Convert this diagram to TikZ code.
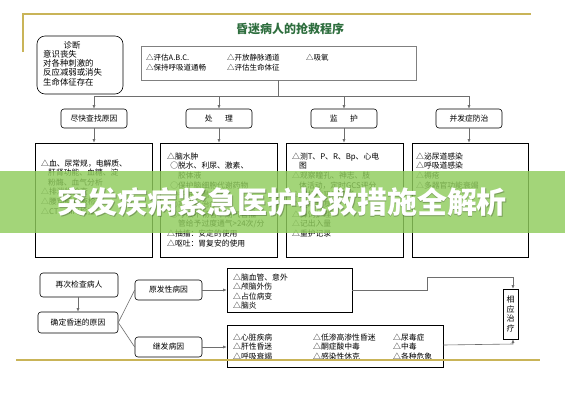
\documentclass[tikz,border=0pt]{standalone}
\usepackage{fontspec}
\setmainfont{Noto Sans CJK SC}
\usetikzlibrary{arrows.meta}
\definecolor{gold}{HTML}{C9B458}
\definecolor{titlegreen}{HTML}{2E6E3E}
\definecolor{bandgreen}{HTML}{8FCC5C}
\definecolor{linegray}{HTML}{6E6E6E}
\begin{document}
\begin{tikzpicture}[x=1pt,y=-1pt,
  box/.style={draw=black, line width=0.6pt, inner sep=0pt, fill=white, font=\fontsize{7.8}{9.6}\selectfont},
  rbox/.style={box, rounded corners=3pt},
  txt/.style={inner sep=0pt, align=left, anchor=north west, font=\fontsize{7.8}{9.6}\selectfont},
  conn/.style={draw=linegray, line width=0.6pt},
  arr/.style={conn, -{Latex[length=3.5pt,width=3pt]}},
  goldline/.style={draw=gold, line width=1.3pt}
]
\useasboundingbox (0,0) rectangle (565,400);
\fill[white] (0,0) rectangle (565,400);

% decorative gold line (top)
\draw[goldline] (23,52) -- (23,14) -- (531,14);

% title
\node[inner sep=0pt, font=\fontsize{12}{14}\selectfont\bfseries, text=titlegreen] (title) at (290,28.5) {昏迷病人的抢救程序};

% diagnosis box
\node[box, rounded corners=8pt, minimum width=86, minimum height=58] (diag) at (80,65) {};
\node[inner sep=0pt, font=\fontsize{8.4}{9.3}\selectfont] (diagh) at (72,45) {诊断};
\node[txt, font=\fontsize{8.4}{9.3}\selectfont] (diagt) at (43,50) {意识丧失\\对各种刺激的\\反应减弱或消失\\生命体征存在};

% top box
\node[box, draw=gray, minimum width=275, minimum height=34] (top) at (278.5,63) {};
\node[txt, font=\fontsize{7.5}{10}\selectfont] (ta) at (146,53.5) {△评估A.B.C.\\△保持呼吸道通畅};
\node[txt, font=\fontsize{7.5}{10}\selectfont] (tb) at (227,53.5) {△开放静脉通道\\△评估生命体征};
\node[txt, font=\fontsize{7.5}{10}\selectfont] (tc) at (306,53.5) {△吸氧};

% small heading boxes
\node[rbox, minimum width=66, minimum height=19] (c1) at (94,118.5) {尽快查找原因};
\node[rbox, minimum width=66, minimum height=19] (c2) at (219,118.5) {处\hspace{1.6em}理};
\node[rbox, minimum width=66, minimum height=19] (c3) at (344,118.5) {监\hspace{1.6em}护};
\node[rbox, minimum width=66, minimum height=19] (c4) at (469,118.5) {并发症防治};

% connectors from top box
\coordinate (hub) at (278.5,96);
\coordinate (h1) at (94,96);
\coordinate (h4) at (469,96);
\draw[conn] (top.south) -- (hub);
\draw[conn] (h1) -- (h4);
\draw[arr] (h1) -- (c1.north);
\draw[arr] (c2.north |- hub) -- (c2.north);
\draw[arr] (c3.north |- hub) -- (c3.north);
\draw[arr] (h4) -- (c4.north);

% big boxes
\node[box, minimum width=117, minimum height=114] (d1) at (93.5,200) {};
\node[box, minimum width=117, minimum height=114] (d2) at (218.5,200) {};
\node[box, minimum width=117, minimum height=114] (d3) at (344.5,200) {};
\node[box, minimum width=116, minimum height=114] (d4) at (470,200) {};
\draw[arr] (c1.south) -- (c1.south |- d1.north);
\draw[arr] (c2.south) -- (c2.south |- d2.north);
\draw[arr] (c3.south) -- (c3.south |- d3.north);
\draw[arr] (c4.south) -- (c4.south |- d4.north);

\node[txt] (d1t) at (41,159.3) {△血、尿常规，电解质、\\\hspace*{0.9em}肝肾功能、血糖、淀\\\hspace*{0.9em}粉酶、血气分析\\△排泄物检查\\△腰穿脑脊液检查\\△CT、MRI检查};
\node[txt, font=\fontsize{7.8}{9.7}\selectfont] (d2t) at (167,152.3) {△脑水肿\\\hspace*{0.4em}○脱水、利尿、激素、\\\hspace*{1.4em}胶体液\\\hspace*{0.4em}○保护脑细胞代谢药物\\\hspace*{0.4em}○冬眠低温疗法\\\hspace*{0.4em}○高压氧治疗\\\hspace*{0.4em}○呼吸不畅者早期气管插\\\hspace*{1.4em}管给予过度通气>24次/分\\△抽搐：安定的使用\\△呕吐：胃复安的使用};
\node[txt, font=\fontsize{7.8}{9.7}\selectfont] (d3t) at (292,152.3) {△测T、P、R、Bp、心电\\\hspace*{0.9em}图\\△观察瞳孔、神志、肢\\\hspace*{0.9em}体活动，定时GCS评分\\△保持呼吸道通畅\\△定时翻身\\△鼻饲护理\\△记出入量\\△重护记录};
\node[txt, font=\fontsize{7.8}{9.7}\selectfont] (d4t) at (416,152.3) {△泌尿道感染\\△呼吸道感染\\△褥疮\\△多器官功能衰竭};

% bottom part
\node[rbox, minimum width=78, minimum height=24] (b1) at (79,285) {再次检查病人};
\node[rbox, minimum width=80, minimum height=21] (b2) at (78,322.5) {确定昏迷的原因};
\draw[arr] (b1.south -| b2.north) -- (b2.north);
\node[rbox, minimum width=67, minimum height=20] (p1) at (168.5,290) {原发性病因};
\node[rbox, minimum width=67, minimum height=20] (p2) at (168.5,347) {继发病因};
\draw[conn] (b2.east) -- (p1.west);
\draw[conn] (b2.east) -- (p2.west);

\node[box, minimum width=125, minimum height=44] (l1) at (289.5,290) {};
\node[txt, font=\fontsize{7.8}{9.4}\selectfont] (l1t) at (233,273.5) {△脑血管、意外\\△颅脑外伤\\△占位病变\\△脑炎};
\node[box, minimum width=216, minimum height=42] (l2) at (335,346) {};
\node[txt, font=\fontsize{7.8}{9.5}\selectfont] (l2a) at (233,333.5) {△心脏疾病\\△肝性昏迷\\△呼吸衰竭};
\node[txt, font=\fontsize{7.8}{9.5}\selectfont] (l2b) at (313,333.5) {△低渗高渗性昏迷\\△酮症酸中毒\\△感染性休克};
\node[txt, font=\fontsize{7.8}{9.5}\selectfont] (l2c) at (393,333.5) {△尿毒症\\△中毒\\△各种危象};
\draw[arr] (p1.east) -- (l1.west);
\draw[arr] (p2.east) -- (p2.east -| l2.west);

\node[box, minimum width=15, minimum height=50, align=center, font=\fontsize{8}{9.5}\selectfont] (tr) at (510.5,314) {相\\应\\治\\疗};
\coordinate (k1) at (427,290);
\coordinate (k2) at (427,277);
\coordinate (k3) at (513,277);
\draw[arr] (l1.east) -- (k1) -- (k2) -- (k3) -- (k3 |- tr.north);
\coordinate (k4) at (513,344);
\draw[arr] (l2.east |- 0,345) -- (k4) -- (k4 |- tr.south);

% decorative gold line (bottom), lying over the boxes
\draw[goldline] (16,360) -- (540,360);

% banner overlay
\fill[bandgreen, opacity=0.82] (0,171) rectangle (565,233);
\node[inner sep=0pt, font=\fontsize{30}{32}\selectfont\bfseries, text=black, opacity=0.25] (bannershadow) at (283,203.5) {突发疾病紧急医护抢救措施全解析};
\node[inner sep=0pt, font=\fontsize{30}{32}\selectfont\bfseries, text=white] (banner) at (282,202.5) {突发疾病紧急医护抢救措施全解析};
\end{tikzpicture}
\end{document}
